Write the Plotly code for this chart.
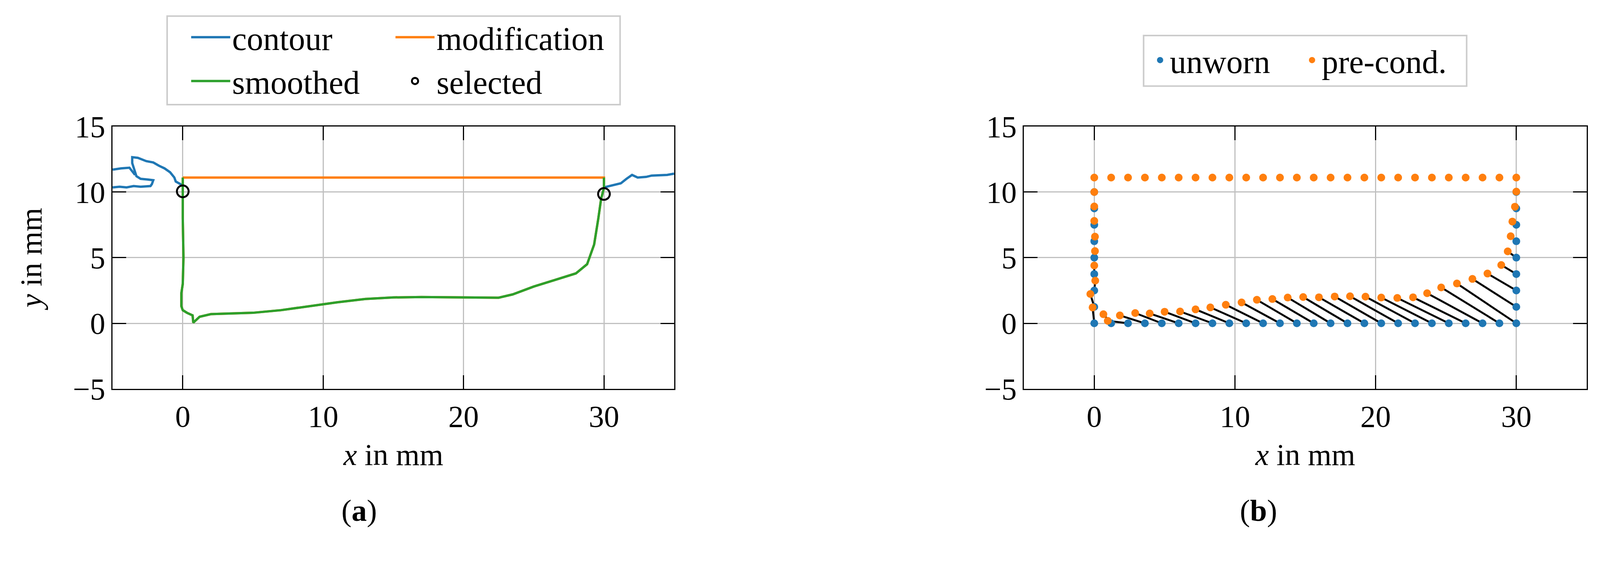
import plotly.graph_objects as go

# ---- panel (a) ----
contour_x = [-5, -4.5, -4, -3.5, -3, -2.6, -2.3, -2.2, -2.1, -2.5, -3.0, -3.3, -3.45, -3.6, -3.6, -3.2, -2.6, -2.1, -1.7, -1.3, -0.9, -0.6, -0.5, -0.2, 0.0,
             None, -5, -4.4, -3.8, -3.6, -3.4,
             None, 30.0, 30.6, 31.2, 31.6, 32.0, 32.4, 33.0, 33.4, 34.0, 34.5, 35.0]
contour_y = [10.35, 10.4, 10.35, 10.45, 10.4, 10.45, 10.45, 10.6, 10.9, 10.95, 11.0, 11.2, 11.7, 12.2, 12.65, 12.6, 12.35, 12.25, 12.0, 11.8, 11.5, 11.1, 10.8, 10.6, 10.5,
             None, 11.7, 11.8, 11.85, 11.6, 11.3,
             None, 10.35, 10.5, 10.66, 11.0, 11.3, 11.1, 11.15, 11.25, 11.3, 11.3, 11.4]

smooth_x = [0.0, 0.0, 0.0, 0.05, 0.0, -0.1, -0.1, 0.0, 0.3, 0.7, 0.75, 1.2, 2.0, 3.5, 5.0, 7.0, 9.0, 11.0, 13.0, 15.0, 17.0, 19.0,
            21.0, 22.5, 23.5, 25.0, 26.5, 28.0, 28.8, 29.3, 29.6, 29.8, 30.0, 30.0]
smooth_y = [11.1, 10.0, 8.0, 5.0, 3.0, 2.3, 1.3, 1.0, 0.8, 0.6, 0.05, 0.5, 0.7, 0.75, 0.8, 1.0, 1.3, 1.6, 1.85, 1.97, 2.0, 1.98,
            1.95, 1.95, 2.2, 2.8, 3.3, 3.8, 4.5, 6.0, 8.0, 9.5, 10.3, 11.1]

modif_x = smooth_x + [0.0]
modif_y = smooth_y + [11.1]

sel_x = [0.0, 30.0]
sel_y = [10.05, 9.85]

# ---- panel (b) ----
unworn_x = [0] * 9 + [1.2 * i for i in range(1, 25)] + [30] * 9
unworn_y = [10, 8.75, 7.5, 6.25, 5, 3.75, 2.5, 1.25, 0] + [0] * 24 + [0, 1.25, 2.5, 3.75, 5, 6.25, 7.5, 8.75, 10]

pre_x = [0, 0, 0, 0.05, 0.05, 0, 0.07, -0.28, -0.12,
         0.65, 0.96, 1.82, 2.91, 3.94, 5.0, 6.1, 7.2, 8.25, 9.35, 10.47, 11.56, 12.66, 13.75, 14.85, 15.97,
         17.09, 18.18, 19.28, 20.4, 21.54, 22.66, 23.66, 24.66, 25.78, 26.88, 27.95, 28.93, 29.39, 29.6, 29.72, 29.9, 30.0]
pre_y = [10.0, 8.9, 7.8, 6.6, 5.5, 4.4, 3.25, 2.23, 1.21,
         0.69, 0.19, 0.6, 0.78, 0.75, 0.88, 0.9, 1.06, 1.21, 1.41, 1.59, 1.79, 1.85, 1.96, 2.0, 1.98,
         2.04, 2.06, 2.03, 1.96, 1.93, 1.98, 2.29, 2.73, 3.03, 3.38, 3.79, 4.44, 5.48, 6.63, 7.75, 8.88, 10.03]
top_x = [1.2 * i for i in range(26)]
top_y = [11.1] * 26

BLUE = "#1f77b4"
ORANGE = "#ff7f0e"
GREEN = "#2ca02c"
FONT = "Liberation Serif"
FS = 78
LFS = 84
DY = 0.037  # vertical shift for everything above the captions

fig = go.Figure()

# left legend is built from two vertical columns: legend (col 1), legend2 (col 2)
fig.add_trace(go.Scatter(x=contour_x, y=contour_y, mode="lines", name="contour",
                         line=dict(color=BLUE, width=6), xaxis="x", yaxis="y", legend="legend"))
fig.add_trace(go.Scatter(x=modif_x, y=modif_y, mode="lines", name="modification",
                         line=dict(color=ORANGE, width=6), xaxis="x", yaxis="y", legend="legend2"))
fig.add_trace(go.Scatter(x=smooth_x, y=smooth_y, mode="lines", name="smoothed",
                         line=dict(color=GREEN, width=6), xaxis="x", yaxis="y", legend="legend"))
fig.add_trace(go.Scatter(x=sel_x, y=sel_y, mode="markers", name="selected",
                         marker=dict(symbol="circle-open", size=30, color="black", line=dict(width=5)),
                         xaxis="x", yaxis="y", legend="legend2"))

# connection lines between unworn and pre-cond points
lx, ly = [], []
for a, b, c, d in zip(unworn_x, unworn_y, pre_x, pre_y):
    lx += [a, c, None]
    ly += [b, d, None]
fig.add_trace(go.Scatter(x=lx, y=ly, mode="lines", line=dict(color="black", width=5),
                         showlegend=False, xaxis="x2", yaxis="y2"))
fig.add_trace(go.Scatter(x=unworn_x, y=unworn_y, mode="markers", name="unworn",
                         marker=dict(color=BLUE, size=20), xaxis="x2", yaxis="y2", legend="legend3"))
fig.add_trace(go.Scatter(x=pre_x + top_x, y=pre_y + top_y, mode="markers", name="pre-cond.",
                         marker=dict(color=ORANGE, size=20), xaxis="x2", yaxis="y2", legend="legend3"))

ax = dict(showline=True, linecolor="black", linewidth=3, mirror="allticks", ticks="inside",
          ticklen=35, tickwidth=3, tickcolor="black", showgrid=True, gridcolor="#c0c0c0", gridwidth=3,
          zeroline=False, tickfont=dict(size=FS, family=FONT, color="black"))
xa = dict(ax, range=[-5, 35], tickvals=[0, 10, 20, 30],
          title=dict(text="<i>x</i> in mm", font=dict(size=FS, family=FONT, color="black"), standoff=28))
ya = dict(ax, range=[-5, 15], tickvals=[-5, 0, 5, 10, 15], ticktext=["−5", "0", "5", "10", "15"])

vleg = dict(orientation="v", font=dict(size=LFS, family=FONT, color="black"), bgcolor="rgba(0,0,0,0)",
            xanchor="left", yanchor="middle", itemwidth=100, tracegroupgap=0)

ydom = [0.2771 + DY, 0.7652 + DY]

fig.update_layout(
    autosize=True, paper_bgcolor="white", plot_bgcolor="white",
    margin=dict(l=0, r=0, t=0, b=0), font=dict(family=FONT, color="black"),
    xaxis=dict(xa, domain=[0.0684, 0.4194], anchor="y"),
    yaxis=dict(ya, domain=ydom, anchor="x",
               title=dict(text="<i>y</i> in mm", font=dict(size=FS, family=FONT, color="black"), standoff=55)),
    xaxis2=dict(xa, domain=[0.638, 0.9897], anchor="y2"),
    yaxis2=dict(ya, domain=ydom, anchor="x2"),
    legend=dict(vleg, x=0.1163, y=0.89 + DY),
    legend2=dict(vleg, x=0.244, y=0.89 + DY),
    legend3=dict(vleg, orientation="h", x=0.717, y=0.888 + DY, entrywidth=334,
                 entrywidthmode="pixels", itemwidth=40),
    shapes=[
        dict(type="rect", xref="paper", yref="paper", x0=0.1025, x1=0.3856, y0=0.8055 + DY, y1=0.970 + DY,
             line=dict(color="#cccccc", width=4)),
        dict(type="rect", xref="paper", yref="paper", x0=0.7128, x1=0.9147, y0=0.840 + DY, y1=0.934 + DY,
             line=dict(color="#cccccc", width=4)),
    ],
    annotations=[
        dict(text="(<b>a</b>)", x=920 / 4359, y=0.088, yanchor="middle", xref="paper", yref="paper",
             showarrow=False, font=dict(size=FS, family=FONT, color="black")),
        dict(text="(<b>b</b>)", x=3473 / 4359, y=0.088, yanchor="middle", xref="paper", yref="paper",
             showarrow=False, font=dict(size=FS, family=FONT, color="black")),
    ],
)

fig.write_html("out.html", default_width="100vw", default_height="100vh",
               config={"responsive": True})
